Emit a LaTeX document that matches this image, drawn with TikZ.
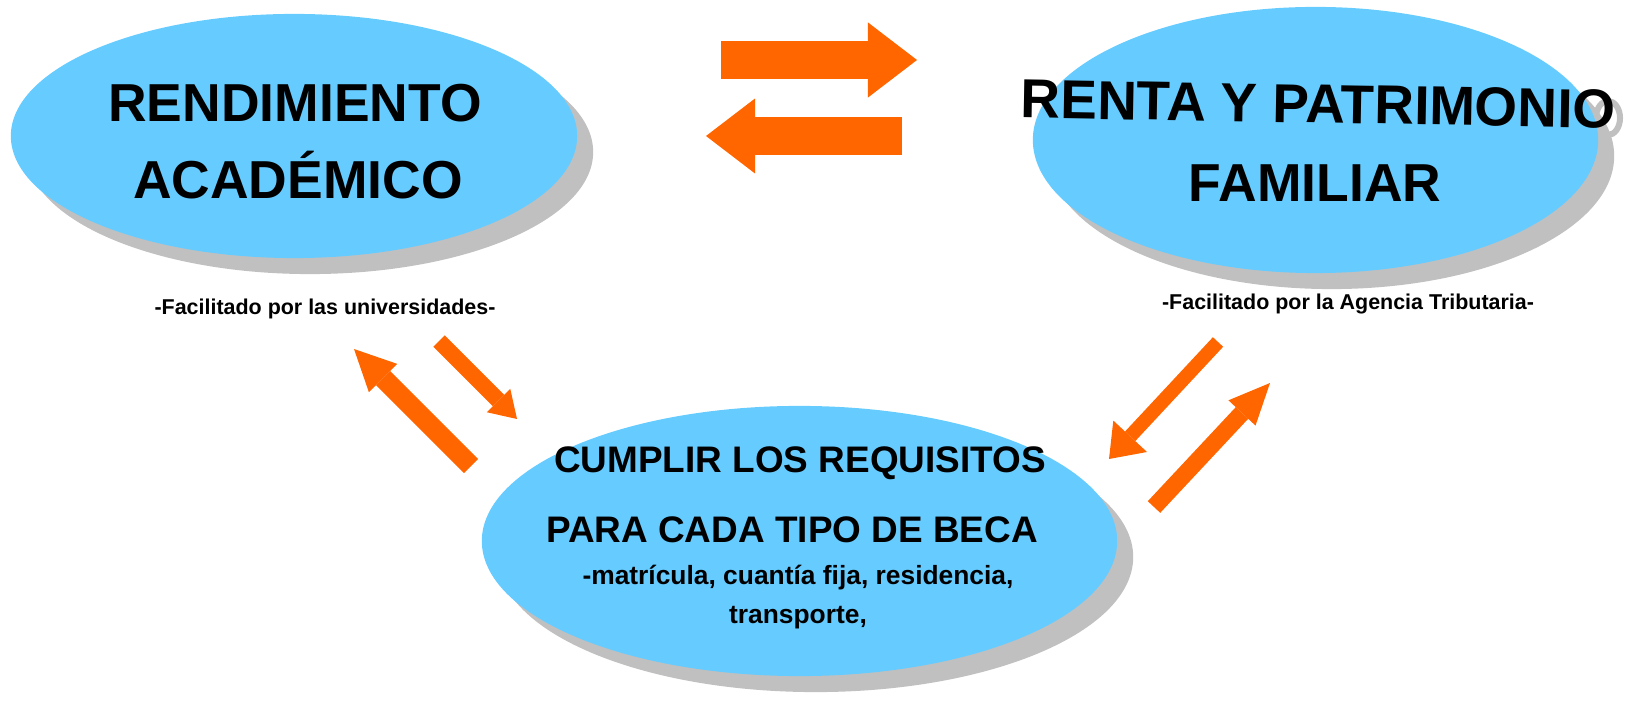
\documentclass[tikz,border=0pt]{standalone}
\usepackage{fontspec}
\setmainfont{Liberation Sans}
\usetikzlibrary{arrows.meta, shapes.geometric, shadows}
\definecolor{celeste}{HTML}{66CCFF}
\definecolor{naranja}{HTML}{FF6600}
\definecolor{sombra}{HTML}{C0C0C0}
\tikzset{
    >=Triangle,
    burbuja/.style={ellipse, fill=celeste, inner sep=0pt,
        drop shadow={shadow xshift=0.16cm, shadow yshift=-0.16cm, fill=sombra, opacity=1}},
    titulo/.style={anchor=base, font=\bfseries\fontsize{15.2}{18}\selectfont},
    requisito/.style={anchor=base, font=\bfseries\fontsize{10.5}{13}\selectfont},
    detalle/.style={anchor=base, font=\bfseries\fontsize{7.5}{9}\selectfont},
    fuente/.style={anchor=base, font=\bfseries\fontsize{6.1}{7.5}\selectfont},
    flujo/.style n args={3}{naranja, line width=#1,
        -{Triangle[width=#2, length=#3, line width=0pt]}},
}

\begin{document}
\begin{tikzpicture}[x=0.01cm, y=-0.01cm]
        \useasboundingbox (0,0) rectangle (1625,710);
        % sombra de la O final
        \draw[sombra, line width=0.06cm] (1608,118) ellipse [x radius=0.12cm, y radius=0.17cm];
        \node[burbuja, minimum width=5.66cm, minimum height=2.44cm] (rend) at (294,136) {};
        \node[burbuja, minimum width=5.65cm, minimum height=2.66cm] (renta) at (1315.5,140) {};
        \node[burbuja, minimum width=6.35cm, minimum height=2.70cm] (req) at (799.5,541) {};
        \node[titulo] (rend1) at (295,122) {RENDIMIENTO};
        \node[titulo] (rend2) at (298,199) {ACADÉMICO};
        \node[titulo, font=\bfseries\fontsize{15.6}{18}\selectfont, rotate=-1] (renta1) at (1318,123) {RENTA Y PATRIMONIO};
        \node[titulo] (renta2) at (1315,202) {FAMILIAR};
        \node[requisito] (req1) at (800,473) {CUMPLIR LOS REQUISITOS};
        \node[requisito] (req2) at (792,543) {PARA CADA TIPO DE BECA};
        \node[detalle] (req3) at (798,584) {-matrícula, cuantía fija, residencia,};
        \node[detalle] (req4) at (798,623) {transporte,};
        \node[fuente] (fuente1) at (325,315) {-Facilitado por las universidades-};
        \node[fuente] (fuente2) at (1348,310) {-Facilitado por la Agencia Tributaria-};
        \coordinate (h1a) at (721,60);   \coordinate (h1b) at (917,60);
        \coordinate (h2a) at (902,136);  \coordinate (h2b) at (706,136);
        \coordinate (i1a) at (471,466);  \coordinate (i1b) at (354,349);
        \coordinate (i2a) at (439,341);  \coordinate (i2b) at (517,419);
        \coordinate (d1a) at (1218,342); \coordinate (d1b) at (1109,459);
        \coordinate (d2a) at (1154,507); \coordinate (d2b) at (1270,383);
        \foreach \desde/\hasta/\ancho/\punta/\largo in {h1a/h1b/.38/.75/.49, h2a/h2b/.38/.75/.49,
            i1a/i1b/.20/.40/.41, i2a/i2b/.16/.33/.26, d1a/d1b/.14/.46/.31, d2a/d2b/.17/.37/.41}
            \draw[flujo={\ancho cm}{\punta cm}{\largo cm}] (\desde) -- (\hasta);
\end{tikzpicture}
\end{document}
